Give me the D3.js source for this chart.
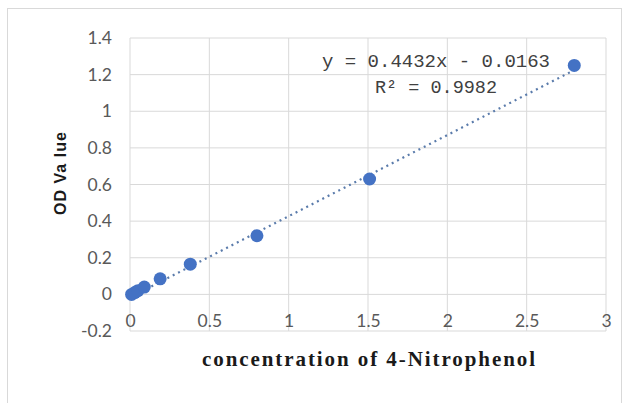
<!DOCTYPE html>
<html>
<head>
<meta charset="utf-8">
<script src="https://cdn.jsdelivr.net/npm/d3@7"></script>
<style>
  body { margin: 0; background: #fff; }
  .tick text { font-family: Lato, "Open Sans", sans-serif; font-size: 17.5px; fill: #595959; }
</style>
</head>
<body>
<svg id="chart" width="630" height="403"></svg>
<script>
const concentration = [0.01, 0.03, 0.05, 0.09, 0.19, 0.38, 0.8, 1.51, 2.8]
const odValue = [0.0, 0.01, 0.02, 0.04, 0.085, 0.165, 0.32, 0.63, 1.25]
const xTicks = [0, 0.5, 1, 1.5, 2, 2.5, 3]
const yTicks = [-0.2, 0, 0.2, 0.4, 0.6, 0.8, 1, 1.2, 1.4]
const slope = 0.4432
const intercept = -0.0163

const svg = d3.select('#chart')

svg.append('rect')
    .attr('x', 7.5).attr('y', 8.5)
    .attr('width', 614).attr('height', 400)
    .attr('fill', '#fff')
    .attr('stroke', '#d9d9d9')

const x = d3.scaleLinear().domain([0, 3]).range([130, 606])
const y = d3.scaleLinear().domain([-0.2, 1.4]).range([331, 38])

const grid = svg.append('g')
grid.selectAll()
    .data(yTicks)
    .enter()
    .append('line')
    .attr('x1', x(0)).attr('x2', x(3))
    .attr('y1', d => y(d)).attr('y2', d => y(d))
    .attr('stroke', '#d9d9d9')
grid.selectAll()
    .data(xTicks)
    .enter()
    .append('line')
    .attr('x1', d => x(d)).attr('x2', d => x(d))
    .attr('y1', y(-0.2)).attr('y2', y(1.4))
    .attr('stroke', '#d9d9d9')

svg.append('g')
    .attr('transform', `translate(${x(0) - 15},0)`)
    .call(d3.axisLeft(y).tickValues(yTicks).tickSize(0).tickFormat(d => String(d)))
    .call(g => g.select('.domain').remove())

// labels sit next to the axis at y = 0, inside the plot
svg.append('g')
    .attr('transform', `translate(0,${y(0) + 17})`)
    .call(d3.axisBottom(x).tickValues(xTicks).tickSize(0).tickFormat(d => String(d)))
    .call(g => g.select('.domain').remove())

// trendline
svg.append('line')
    .attr('x1', x(0)).attr('y1', y(intercept))
    .attr('x2', x(2.8)).attr('y2', y(slope * 2.8 + intercept))
    .attr('stroke', '#5a7bab')
    .attr('stroke-width', 2.2)
    .attr('stroke-dasharray', '2 4')

svg.selectAll()
    .data(concentration)
    .enter()
    .append('circle')
    .attr('cx', d => x(d))
    .attr('cy', (d, i) => y(odValue[i]))
    .attr('r', 6.5)
    .attr('fill', '#4472c4')

svg.append('text')
    .attr('x', 322).attr('y', 67)
    .attr('textLength', 228).attr('lengthAdjust', 'spacingAndGlyphs')
    .style('font-family', '"Liberation Mono", monospace')
    .style('font-size', '19px')
    .attr('fill', '#404040')
    .text('y = 0.4432x - 0.0163')

svg.append('text')
    .attr('x', 375).attr('y', 93)
    .attr('textLength', 122).attr('lengthAdjust', 'spacingAndGlyphs')
    .style('font-family', '"Liberation Mono", monospace')
    .style('font-size', '19px')
    .attr('fill', '#404040')
    .text('R² = 0.9982')

svg.append('text')
    .attr('x', 202).attr('y', 366)
    .attr('textLength', 333).attr('lengthAdjust', 'spacing')
    .style('font-family', '"Liberation Serif", serif')
    .style('font-weight', 'bold')
    .style('font-size', '21px')
    .attr('fill', '#1a1a1a')
    .text('concentration of 4-Nitrophenol')

svg.append('text')
    .attr('transform', `translate(66,215) rotate(-90)`)
    .attr('textLength', 83).attr('lengthAdjust', 'spacing')
    .style('font-family', '"Liberation Sans", Arial, sans-serif')
    .style('font-weight', 'bold')
    .style('font-size', '16px')
    .attr('fill', '#1a1a1a')
    .text('OD Va lue')
</script>
</body>
</html>
